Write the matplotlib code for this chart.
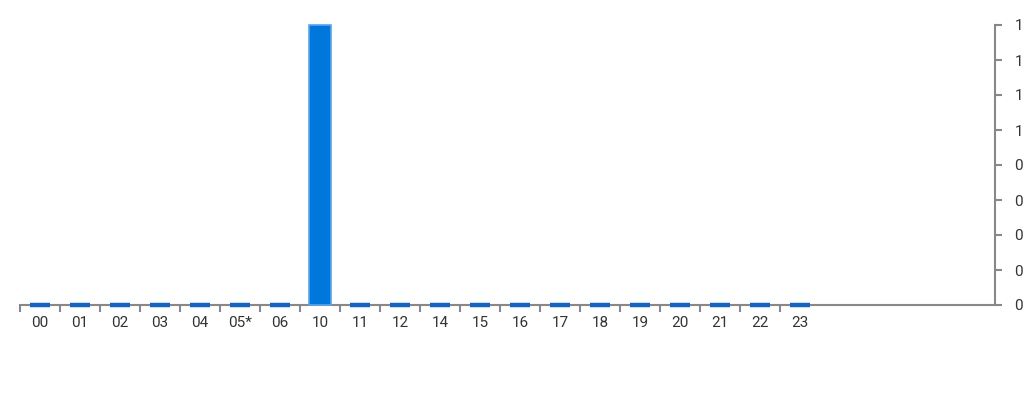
import matplotlib.pyplot as plt
from matplotlib.ticker import FuncFormatter, FixedLocator

plt.rcParams['font.family'] = ['Roboto', 'DejaVu Sans']

hours = ['00', '01', '02', '03', '04', '05*', '06', '10', '11', '12',
         '14', '15', '16', '17', '18', '19', '20', '21', '22', '23']
counts = [0, 0, 0, 0, 0, 0, 0, 1, 0, 0,
          0, 0, 0, 0, 0, 0, 0, 0, 0, 0]
y_ticks = [0, 0.125, 0.25, 0.375, 0.5, 0.625, 0.75, 0.875, 1]

fig = plt.figure(figsize=(10.24, 4), dpi=100)
ax = fig.add_axes([20 / 1024, 1 - 305 / 400, 975 / 1024, 280 / 400])

x = list(range(len(hours)))
for xi, v in zip(x, counts):
    if v > 0:
        ax.bar(xi, v, width=0.55, color='#0077dd', edgecolor='#5aa6ea',
               linewidth=1.2, zorder=5, clip_on=False)
    else:
        # zero values still get a thin visible stub
        ax.bar(xi, v, width=0.48, color='#1565c0', edgecolor='#1565c0',
               linewidth=3.2, zorder=5, clip_on=False)

ax.set_xlim(-0.5, -0.5 + 975 / 40)
ax.set_ylim(0, 1)

axis_gray = '#888888'
for side in ['top', 'left']:
    ax.spines[side].set_visible(False)
ax.spines['bottom'].set_color(axis_gray)
ax.spines['right'].set_color(axis_gray)
ax.spines['bottom'].set_linewidth(1.5)
ax.spines['right'].set_linewidth(1.5)

ax.xaxis.set_major_locator(FixedLocator([i - 0.5 for i in x]))
ax.xaxis.set_major_formatter(FuncFormatter(lambda v, p: ''))
ax.set_xticks(x, hours, minor=True)
ax.tick_params(axis='x', which='major', length=5, width=1.5, color=axis_gray)
ax.tick_params(axis='x', which='minor', length=0, pad=8, labelsize=11,
               labelcolor='#333333')

ax.yaxis.tick_right()
ax.set_yticks(y_ticks)
ax.yaxis.set_major_formatter(FuncFormatter(lambda v, p: format(v, '.0f')))
ax.tick_params(axis='y', length=5, width=1.5, color=axis_gray, pad=9,
               labelsize=11, labelcolor='#333333')

fig.savefig('out.png', dpi=100)
